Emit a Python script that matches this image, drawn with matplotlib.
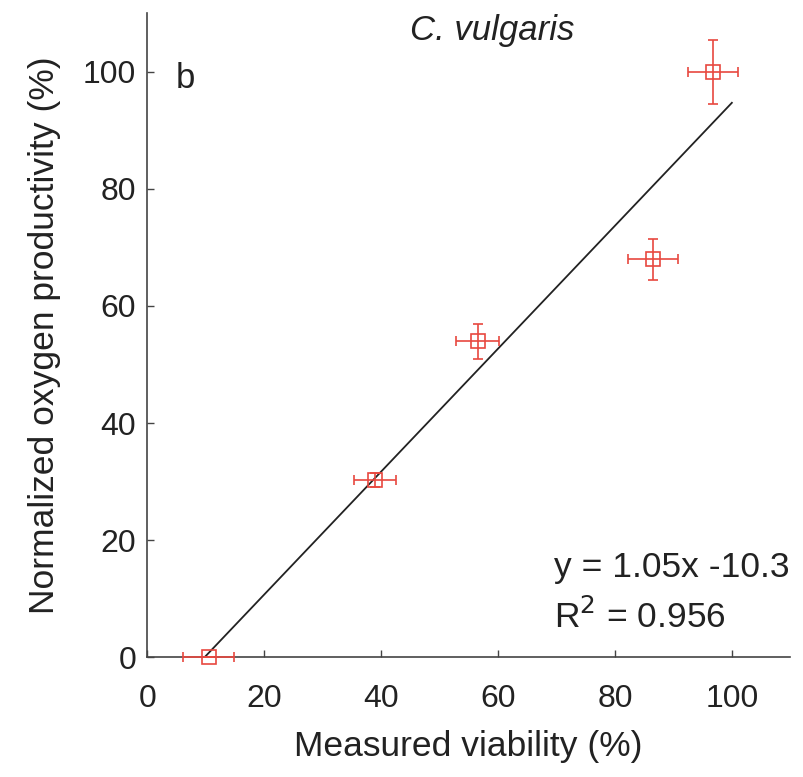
import matplotlib
matplotlib.use("Agg")
import matplotlib.pyplot as plt
import numpy as np

plt.rcParams["font.family"] = ["Liberation Sans", "DejaVu Sans"]

# measured points
viability = [10.5, 39.0, 56.5, 86.5, 96.8]
viability_err = [4.4, 3.6, 3.6, 4.3, 4.3]
productivity = [0.0, 30.3, 54.0, 68.0, 100.0]
productivity_err = [0.0, 1.2, 3.0, 3.5, 5.5]

slope = 1.05
intercept = -10.3
r_squared = 0.956
fit_x = [-intercept / slope, 100.0]

ticks = [0, 20, 40, 60, 80, 100]

red = "#e8483f"
axis_col = "#444444"
text_col = "#222222"

fig = plt.figure(figsize=(8.04, 7.77), dpi=100)
ax = fig.add_axes([0.183, 0.154, 0.80, 0.829])

fx = np.array(fit_x)
ax.plot(fx, slope * fx + intercept, color=text_col, lw=1.3, zorder=2)

ax.errorbar(viability, productivity, xerr=viability_err, yerr=productivity_err,
            fmt="s", ms=10.5, mfc="none", mec=red, mew=1.2, ecolor=red,
            elinewidth=1.2, capsize=3.6, capthick=1.2, clip_on=False, zorder=3)

ax.set_xlim(0, 110)
ax.set_ylim(0, 110)
ax.set_xticks(ticks)
ax.set_yticks(ticks)
for side in ["top", "right"]:
    ax.spines[side].set_visible(False)
for side in ["left", "bottom"]:
    ax.spines[side].set_color(axis_col)
    ax.spines[side].set_linewidth(1.2)
ax.tick_params(direction="in", length=5, width=1, colors=axis_col,
               labelcolor=text_col, labelsize=23)
ax.tick_params(axis="x", pad=19)
ax.tick_params(axis="y", pad=8)

ax.set_xlabel("Measured viability (%)", fontsize=25.5, color=text_col,
              labelpad=12)
ax.set_ylabel("Normalized oxygen productivity (%)", fontsize=25.5,
              color=text_col, labelpad=16)

ax.text(59, 107, "C. vulgaris", fontsize=25, style="italic", ha="center",
        va="center", color=text_col)
ax.text(6.5, 98.8, "b", fontsize=25, ha="center", va="center", color=text_col)
ax.text(69.6, 13.7, f"y = {slope:.2f}x {intercept:.1f}", fontsize=25.5,
        ha="left", va="baseline", color=text_col)
ax.text(69.6, 5.0, f"R$^2$ = {r_squared:.3f}", fontsize=25.5, ha="left",
        va="baseline", color=text_col)

fig.savefig("out.png", dpi=100)
